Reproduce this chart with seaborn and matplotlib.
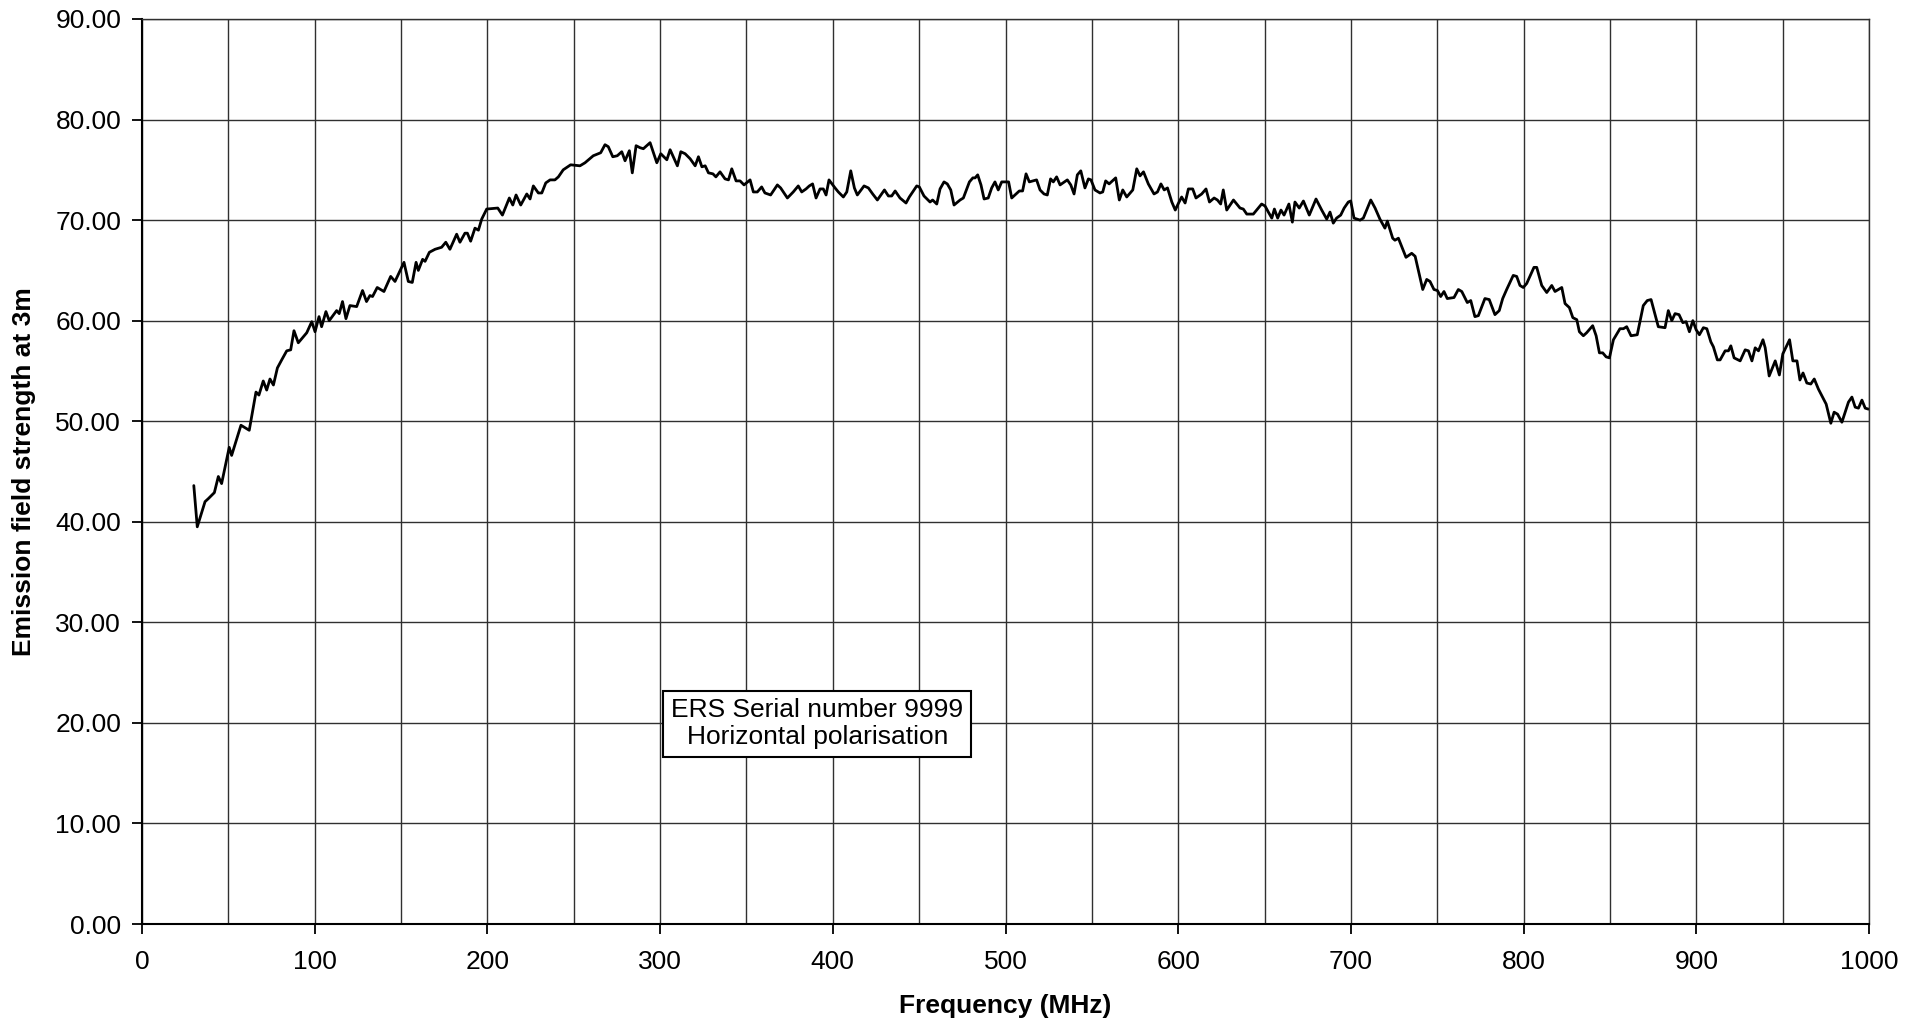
import matplotlib
matplotlib.use("Agg")
import matplotlib.pyplot as plt
import matplotlib.ticker as mticker
import seaborn as sns

freq_mhz = [
    30.0, 32.0, 36.5, 38.4, 41.9, 44.2, 46.1, 50.5, 51.9, 57.3, 62.1, 66.0, 67.7, 70.2, 72.2, 74.1, 76.1, 78.4, 80.9,
    83.8, 86.1, 88.0, 90.5, 95.4, 98.3, 100.2, 102.5, 104.0, 106.5, 108.4, 112.7, 114.2, 116.1, 118.1, 120.4,
    124.3, 127.7, 130.0, 132.0, 133.5, 136.2, 140.1, 144.0, 146.5, 151.7, 154.2, 156.5, 158.7, 160.0, 162.5,
    163.9, 166.4, 169.7, 173.5, 175.9, 178.3, 182.2, 184.1, 187.0, 188.4, 190.3, 192.8, 194.8, 196.7, 199.6,
    206.0, 208.7, 212.7, 214.7, 216.6, 219.3, 222.8, 224.7, 226.6, 229.5, 231.5, 233.8,
    236.3, 239.1, 241.1, 243.9, 248.2, 253.6, 256.5, 261.3, 265.6, 268.1, 270.0, 272.6, 275.2, 277.8, 279.7,
    282.2, 283.9, 286.1, 288.4, 290.3, 294.2, 298.1, 300.4, 303.9, 305.8, 310.0, 312.0, 314.5, 317.4, 320.3,
    322.2, 324.2, 326.1, 328.0, 330.6, 332.3, 334.7, 337.6, 339.6, 341.5, 344.0, 346.3, 348.6, 352.1, 354.0,
    356.3, 358.8, 360.7, 364.0, 367.9, 369.8, 373.7, 377.1, 380.0, 382.0, 384.5, 386.4, 388.3, 390.3,
    392.6, 394.5, 396.1, 397.8, 401.3, 403.2, 406.1, 408.1, 410.4, 412.5, 414.2, 418.1, 420.6, 423.1, 425.8,
    429.9, 432.2, 434.1, 436.1, 438.9, 442.4, 444.3, 448.6, 450.1, 452.8, 456.3, 457.8, 460.2, 462.1, 464.4,
    466.3, 468.3, 470.2, 473.7, 475.6, 479.1, 481.1, 482.4, 483.9, 485.8, 487.6, 490.0, 492.0, 493.9, 495.8,
    497.8, 501.8, 503.6, 505.5, 508.0, 509.9, 511.9, 513.8, 518.0, 520.0, 522.3, 524.2, 526.1, 527.7, 529.6,
    531.6, 535.8, 537.8, 539.7, 541.6, 543.6, 546.0, 548.0, 549.5, 551.8,
    554.7, 556.3, 558.0, 560.0, 563.8, 565.9, 567.9, 570.2, 573.7, 576.0, 577.9, 579.9, 582.7, 586.0, 588.0,
    590.0, 591.9, 593.8, 596.3, 598.3, 600.2, 602.0, 604.0, 605.9, 608.4, 610.3, 613.6, 616.1, 618.1, 620.8,
    622.7, 624.6, 626.1, 628.1, 632.0, 635.8, 637.7, 639.7, 643.5, 645.9, 648.3, 650.3, 652.2, 654.2, 655.7,
    657.6, 659.5, 661.3, 662.8, 664.1, 666.1, 667.6, 670.1, 672.5, 675.9, 679.8, 683.1, 686.0, 687.9, 689.8,
    691.7, 694.1, 696.1, 698.5, 699.9, 701.8, 705.3, 707.2, 711.5, 714.0,
    716.8, 719.7, 721.1, 724.2, 725.5, 727.5, 731.9, 735.2, 737.2, 741.6, 743.9, 745.8, 748.1, 750.1, 752.0,
    753.9, 755.8, 759.7, 762.2, 764.2, 767.4, 769.4, 771.8, 773.8, 777.6, 780.1, 783.4, 785.9, 787.9, 790.2,
    794.0, 796.0, 797.9, 799.8, 801.8, 806.0, 807.6, 810.5, 813.4, 816.3, 818.2, 822.1, 824.0, 826.5, 828.5,
    830.8, 832.3, 834.6, 836.5, 840.0, 842.0, 843.9, 845.8, 847.8, 849.7, 852.0,
    855.8, 857.8, 859.7, 862.2, 865.8, 869.3, 871.6, 873.8, 878.0, 881.9, 883.8, 885.8, 887.7, 890.0, 892.2,
    894.1, 896.0, 898.0, 899.9, 901.8, 904.1, 906.1, 908.4, 909.9, 912.2, 913.8, 916.7, 918.6, 920.0, 921.9,
    925.4, 928.3, 930.2, 932.2, 934.1, 936.0, 938.6, 939.9, 942.2, 945.7, 948.1, 950.1, 954.0, 955.9, 958.3,
    960.0, 961.8, 964.0, 966.3, 968.3, 970.7, 975.2, 977.9, 979.8, 981.8, 984.3, 988.1, 990.1, 992.0, 993.9,
    995.9, 997.8, 999.7,
]

field_level = [
    43.6, 39.5, 42.0, 42.3, 42.9, 44.5, 43.8, 47.4, 46.6, 49.6, 49.1, 52.9, 52.6, 54.0, 53.1, 54.2, 53.6, 55.3, 56.1,
    57.0, 57.1, 59.0, 57.8, 58.8, 59.9, 58.9, 60.4, 59.4, 60.9, 60.0, 61.0, 60.7, 61.9, 60.2, 61.5,
    61.4, 63.0, 61.9, 62.5, 62.4, 63.3, 62.9, 64.4, 63.9, 65.8, 63.9, 63.8, 65.8, 65.0, 66.1,
    65.9, 66.8, 67.1, 67.3, 67.8, 67.1, 68.6, 67.8, 68.7, 68.7, 67.9, 69.2, 69.0, 70.1, 71.1,
    71.2, 70.5, 72.2, 71.5, 72.5, 71.5, 72.6, 72.1, 73.4, 72.7, 72.7, 73.7,
    74.0, 74.0, 74.3, 75.0, 75.5, 75.4, 75.7, 76.4, 76.7, 77.5, 77.3, 76.3, 76.4, 76.8, 75.9,
    76.9, 74.7, 77.4, 77.2, 77.1, 77.7, 75.7, 76.6, 76.0, 77.0, 75.4, 76.8, 76.6, 76.1, 75.4,
    76.3, 75.3, 75.4, 74.7, 74.6, 74.3, 74.8, 74.1, 74.0, 75.1, 73.9, 73.9, 73.5, 74.0, 72.8,
    72.8, 73.3, 72.7, 72.5, 73.5, 73.2, 72.2, 72.8, 73.4, 72.8, 73.1, 73.4, 73.6, 72.2,
    73.1, 73.1, 72.5, 74.0, 73.2, 72.8, 72.3, 72.8, 74.9, 73.2, 72.5, 73.4, 73.2, 72.6, 72.0,
    73.0, 72.4, 72.4, 72.9, 72.2, 71.7, 72.3, 73.4, 73.3, 72.4, 71.8, 72.0, 71.6, 73.1, 73.8,
    73.6, 73.0, 71.5, 72.0, 72.2, 73.8, 74.2, 74.2, 74.5, 73.5, 72.1, 72.2, 73.2, 73.8, 73.0,
    73.8, 73.8, 72.2, 72.5, 72.9, 72.9, 74.6, 73.8, 74.0, 73.0, 72.6, 72.5, 74.1, 73.8, 74.3,
    73.5, 74.0, 73.5, 72.6, 74.5, 74.9, 73.2, 74.1, 74.0, 73.0,
    72.7, 72.8, 73.9, 73.6, 74.2, 72.0, 73.0, 72.3, 73.0, 75.1, 74.4, 74.8, 73.6, 72.6, 72.8,
    73.6, 73.0, 73.2, 71.8, 71.0, 71.7, 72.3, 71.7, 73.1, 73.1, 72.2, 72.6, 73.1, 71.8, 72.2,
    72.0, 71.6, 73.0, 71.0, 72.0, 71.2, 71.1, 70.6, 70.6, 71.1, 71.6, 71.4, 70.8, 70.2, 71.1,
    70.2, 71.0, 70.5, 71.1, 71.6, 69.8, 71.8, 71.2, 71.9, 70.5, 72.1, 71.0, 70.1, 70.8, 69.7,
    70.2, 70.5, 71.2, 71.8, 71.9, 70.2, 70.0, 70.2, 72.0, 71.2,
    70.1, 69.2, 69.9, 68.2, 68.0, 68.2, 66.3, 66.7, 66.4, 63.1, 64.1, 63.9, 63.1, 63.0, 62.4,
    62.9, 62.2, 62.3, 63.1, 62.9, 61.8, 62.0, 60.4, 60.5, 62.2, 62.1, 60.6, 61.0, 62.2, 63.1,
    64.5, 64.4, 63.5, 63.3, 63.7, 65.3, 65.3, 63.5, 62.8, 63.5, 62.9, 63.3, 61.7, 61.3, 60.3,
    60.1, 58.9, 58.5, 58.8, 59.5, 58.5, 56.8, 56.8, 56.4, 56.3, 58.1,
    59.2, 59.2, 59.4, 58.5, 58.6, 61.5, 62.0, 62.1, 59.4, 59.3, 61.0, 60.0, 60.7, 60.6, 59.8,
    59.9, 58.9, 60.0, 59.1, 58.6, 59.3, 59.2, 57.9, 57.4, 56.1, 56.1, 57.0, 57.0, 57.5, 56.3,
    56.0, 57.1, 57.0, 56.0, 57.3, 57.0, 58.1, 57.3, 54.5, 56.0, 54.6, 56.7, 58.1, 56.0, 56.0,
    54.1, 54.8, 53.8, 53.7, 54.2, 53.2, 51.7, 49.8, 50.9, 50.7, 49.9, 51.9, 52.4, 51.4, 51.3,
    52.1, 51.3, 51.2,
]

note_text = "ERS Serial number 9999\nHorizontal polarisation"

sns.set_theme(style="white")
plt.rcParams["font.family"] = ["Liberation Sans", "DejaVu Sans"]

FS = 19
GRID = "#303030"

fig = plt.figure(figsize=(19.23, 10.29), dpi=100)
ax = fig.add_axes([142 / 1923, 105 / 1029, 1727 / 1923, 905 / 1029])

sns.lineplot(x=freq_mhz, y=field_level, ax=ax, color="black", linewidth=2.0)

ax.set_xlim(0, 1000)
ax.set_ylim(0, 90)
ax.xaxis.set_major_locator(mticker.MultipleLocator(100))
ax.xaxis.set_minor_locator(mticker.MultipleLocator(50))
ax.yaxis.set_major_locator(mticker.MultipleLocator(10))
ax.yaxis.set_major_formatter(mticker.FormatStrFormatter("%.2f"))

ax.grid(True, which="major", color=GRID, linewidth=1.0)
ax.grid(True, which="minor", axis="x", color=GRID, linewidth=1.0)
ax.set_axisbelow(True)

ax.tick_params(axis="both", which="major", direction="out", length=7, width=1.3,
               color="black", labelsize=FS, labelcolor="black")
ax.tick_params(axis="y", which="major", pad=8)
ax.tick_params(axis="x", which="major", pad=12)
ax.tick_params(which="minor", length=0)
ax.yaxis.set_ticks_position("left")
ax.xaxis.set_ticks_position("bottom")

for side in ["left", "bottom"]:
    ax.spines[side].set_color("black")
    ax.spines[side].set_linewidth(1.5)
for side in ["top", "right"]:
    ax.spines[side].set_color(GRID)
    ax.spines[side].set_linewidth(1.0)

ax.set_xlabel("Frequency (MHz)", fontsize=FS, fontweight="bold", labelpad=14, color="black")
ax.set_ylabel("Emission field strength at 3m", fontsize=FS, fontweight="bold", labelpad=14, color="black")

ax.text(391, 19.9, note_text, ha="center", va="center", fontsize=FS, color="black",
        linespacing=1.15,
        bbox=dict(boxstyle="square,pad=0.3", facecolor="white", edgecolor="black", linewidth=1.5))

fig.savefig("out.png", dpi=100)
